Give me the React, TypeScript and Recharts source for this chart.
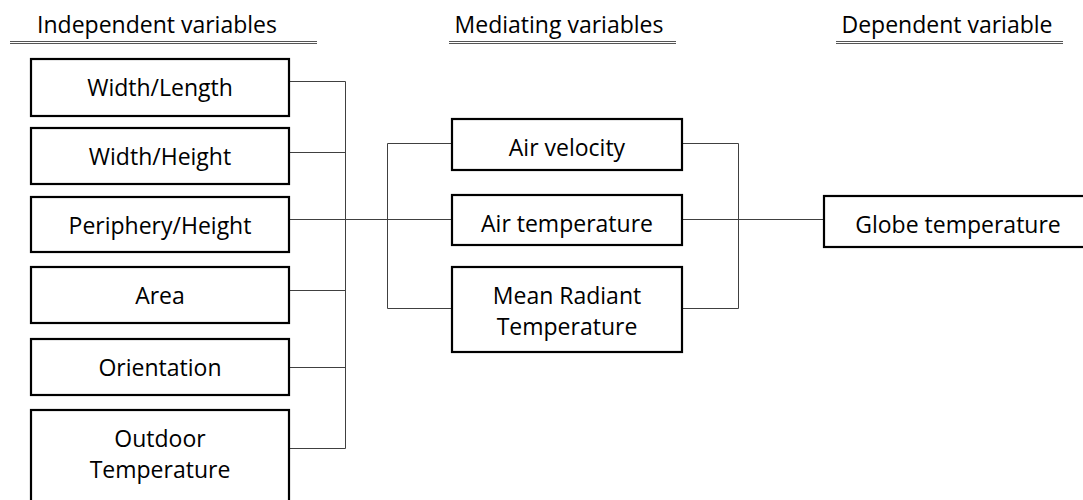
import React from 'react';
import { ScatterChart, Scatter, XAxis, YAxis } from 'recharts';

// --- chart content ---
const headerLabels = ['Independent variables', 'Mediating variables', 'Dependent variable'];
const independentVars = ['Width/Length', 'Width/Height', 'Periphery/Height', 'Area', 'Orientation', 'Outdoor\nTemperature'];
const mediatingVars = ['Air velocity', 'Air temperature', 'Mean Radiant\nTemperature'];
const dependentVars = ['Globe temperature'];

// --- layout (chart units, the axes map 1 unit to 1px) ---
const W = 1083;
const H = 500;
const FONT = '"Open Sans", "Noto Sans", sans-serif';
const FONT_SIZE = 23;
const LINE_GAP = 31;
const LINE_COLOR = '#404040';

const columns = [
  { left: 31, right: 289, headerX: 157, rule: [10, 317] },
  { left: 452, right: 682, headerX: 559, rule: [449, 676] },
  { left: 824, right: 1092, headerX: 947, rule: [836, 1063] },
];
// [top, bottom, connector y]
const independentRows = [
  [59, 116, 81.5],
  [128, 184, 152.5],
  [197, 252, 219.5],
  [267, 323, 290.5],
  [339, 395, 367.5],
  [410, 540, 448.5],
];
const mediatingRows = [
  [119, 170, 143.5],
  [195, 245, 219.5],
  [267, 352, 308.5],
];
const dependentRows = [[196, 247, 219.5]];
const busX = [345.5, 387.5, 738.5];
const headerBaseline = 33;

type Node = { x: number; y: number; w: number; h: number; label: string };

const buildNodes = (labels: string[], col: number, rows: number[][]): Node[] =>
  labels.map((label, i) => {
    const [top, bottom] = rows[i];
    const c = columns[col];
    return { x: (c.left + c.right) / 2, y: (top + bottom) / 2, w: c.right - c.left, h: bottom - top, label };
  });

const nodes = [
  ...buildNodes(independentVars, 0, independentRows),
  ...buildNodes(mediatingVars, 1, mediatingRows),
  ...buildNodes(dependentVars, 2, dependentRows),
];

const headers = headerLabels.map((label, i) => ({
  x: columns[i].headerX,
  y: headerBaseline,
  label,
  rule: columns[i].rule,
}));

// elbow connectors, each one a polyline
const connectors: { x: number; y: number }[][] = [];
independentRows.forEach(([, , py]) => {
  connectors.push([{ x: columns[0].right, y: py }, { x: busX[0], y: py }]);
});
connectors.push([{ x: busX[0], y: independentRows[0][2] }, { x: busX[0], y: independentRows[independentRows.length - 1][2] }]);
connectors.push([{ x: busX[0], y: dependentRows[0][2] }, { x: busX[1], y: dependentRows[0][2] }]);
connectors.push([{ x: busX[1], y: mediatingRows[0][2] }, { x: busX[1], y: mediatingRows[mediatingRows.length - 1][2] }]);
mediatingRows.forEach(([, , py]) => {
  connectors.push([{ x: busX[1], y: py }, { x: columns[1].left, y: py }]);
  connectors.push([{ x: columns[1].right, y: py }, { x: busX[2], y: py }]);
});
connectors.push([{ x: busX[2], y: mediatingRows[0][2] }, { x: busX[2], y: mediatingRows[mediatingRows.length - 1][2] }]);
connectors.push([{ x: busX[2], y: dependentRows[0][2] }, { x: columns[2].left, y: dependentRows[0][2] }]);

const NodeBox = (props: any) => {
  const { cx, cy, payload } = props;
  const { w, h, label } = payload as Node;
  const top = cy - h / 2;
  const lines = label.split('\n');
  return (
    <g>
      <rect x={cx - w / 2} y={top} width={w} height={h} fill="#ffffff" stroke="#000000" strokeWidth={2.2} />
      {lines.map((t, i) => (
        <text key={i} x={cx} y={top + 37 + i * LINE_GAP} textAnchor="middle" fontFamily={FONT} fontSize={FONT_SIZE} fill="#000000">
          {t}
        </text>
      ))}
    </g>
  );
};

const Header = (props: any) => {
  const { cx, cy, payload } = props;
  const [x0, x1] = payload.rule;
  return (
    <g>
      <text x={cx} y={cy} textAnchor="middle" fontFamily={FONT} fontSize={FONT_SIZE} fill="#000000">
        {payload.label}
      </text>
      <line x1={x0} x2={x1} y1={41.5} y2={41.5} stroke="#555555" strokeWidth={1} />
      <line x1={x0} x2={x1} y1={43.5} y2={43.5} stroke="#555555" strokeWidth={1} />
    </g>
  );
};

const NoDot = () => <g />;

export default function App() {
  return (
    <div style={{ position: 'absolute', left: 0, top: 0, background: '#ffffff' }}>
      <ScatterChart width={W} height={H} margin={{ top: 0, right: 0, bottom: 0, left: 0 }}>
        <XAxis type="number" dataKey="x" domain={[0, W]} allowDataOverflow hide />
        <YAxis type="number" dataKey="y" domain={[0, H]} allowDataOverflow reversed hide />
        {connectors.map((pts, i) => (
          <Scatter
            key={`c-${i}`}
            data={pts}
            line={{ stroke: LINE_COLOR, strokeWidth: 1 }}
            lineType="joint"
            shape={NoDot}
            isAnimationActive={false}
          />
        ))}
        <Scatter data={nodes} shape={NodeBox} isAnimationActive={false} />
        <Scatter data={headers} shape={Header} isAnimationActive={false} />
      </ScatterChart>
    </div>
  );
}
